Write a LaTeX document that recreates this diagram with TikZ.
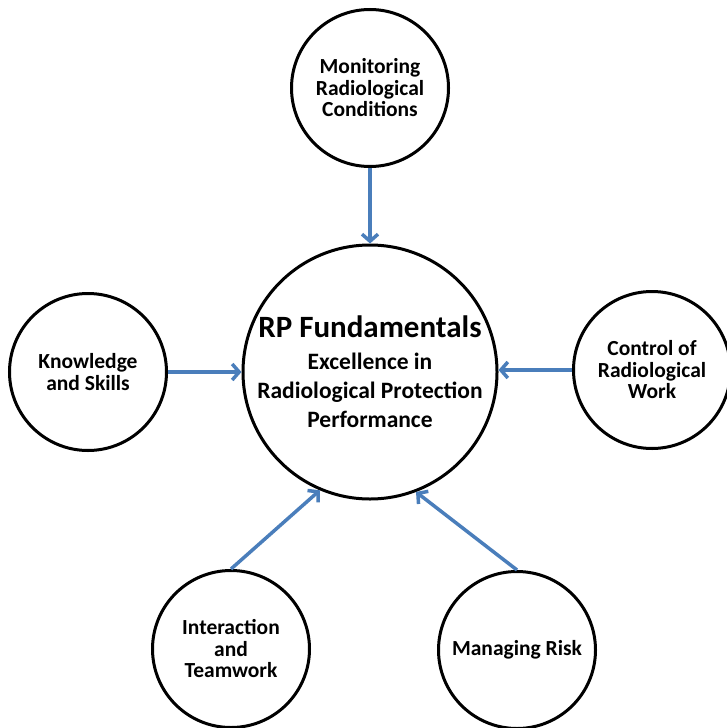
\documentclass[tikz,border=0pt]{standalone}
\usepackage{fontspec}
\setmainfont{Carlito}
\usetikzlibrary{positioning}
\usetikzlibrary{arrows.meta}
\definecolor{arrowblue}{RGB}{74,126,187}
\tikzset{
	hub/.style={draw, circle, line width=3pt, inner sep=0pt, minimum size=254pt, align=center, font=\bfseries\fontsize{23.5}{29}\selectfont},
	spoke/.style={draw, circle, line width=3pt, inner sep=0pt, minimum size=157pt, align=center, font=\bfseries\fontsize{21.5}{21.5}\selectfont},
	% arrows from the outer circles into the hub
	feed/.style={line width=3.5pt, arrowblue, -{Straight Barb[length=7pt, width=16pt]}},
}
\begin{document}
\begin{tikzpicture}[x=1pt, y=1pt]
			\useasboundingbox (0,0) rectangle (727,-728);
			
			\node (c) [hub] at (370,-372) {{\fontsize{31}{32}\selectfont RP Fundamentals}\\[3pt]
				Excellence in\\
				Radiological Protection\\
				Performance};
			
			\node (mon) [spoke, above of=c, node distance=284pt] {Monitoring\\Radiological\\Conditions};
			\node (know) [spoke, left of=c, node distance=282pt] {Knowledge\\and Skills};
			\node (ctrl) [spoke, right of=c, node distance=282pt, yshift=2pt] {Control of\\Radiological\\Work};
			\node (team) [spoke, below of=c, node distance=277pt, xshift=-139pt] {Interaction\\and\\Teamwork};
			\node (risk) [spoke, below of=c, node distance=278pt, xshift=147pt] {Managing Risk};
			
			\begin{scope}[feed]
				\draw (mon) -- (c);
				\draw (know.east) -- (know.east -| c.west);
				\draw (ctrl.west) -- (ctrl.west -| c.east);
				\draw (team.north) -- (c.247);
				\draw (risk.north) -- (c.291);
			\end{scope}
			
		\end{tikzpicture}
\end{document}
